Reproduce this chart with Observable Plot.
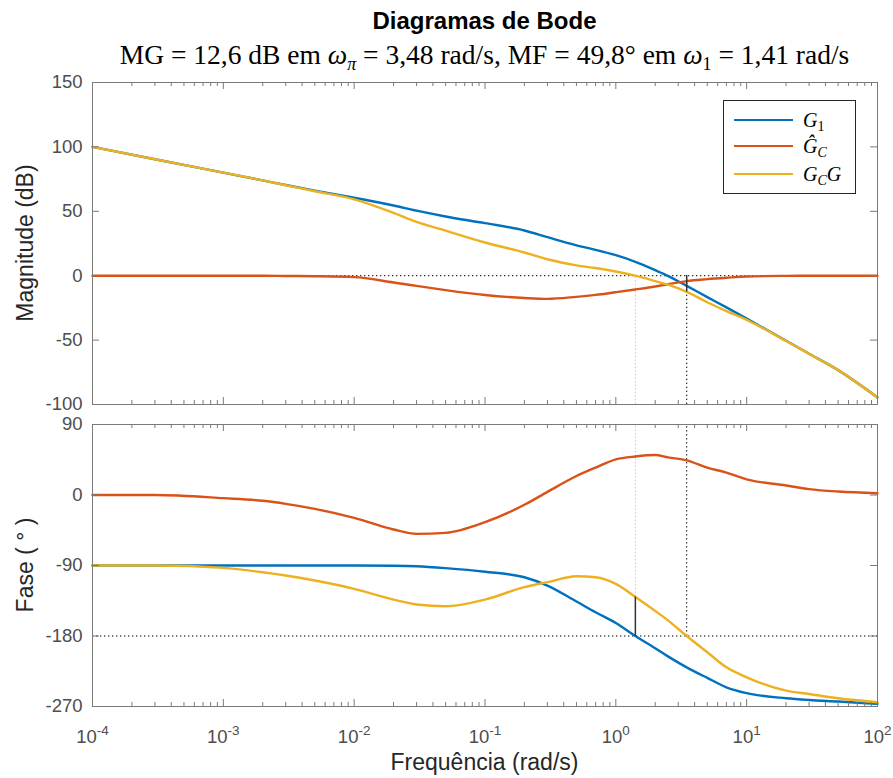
<!DOCTYPE html>
<html>
<head>
<meta charset="utf-8">
<script src="https://cdn.jsdelivr.net/npm/d3@7"></script>
<script src="https://cdn.jsdelivr.net/npm/@observablehq/plot@0.6"></script>
<style>
  body { margin: 0; background: #fff; }
  #wrap { position: relative; width: 893px; height: 778px; font-family: "Liberation Sans", Arial, sans-serif; color: #000; }
  #title { position: absolute; left: 92px; width: 785px; top: 7px; text-align: center; font-weight: bold; font-size: 24px; line-height: 28px; }
  #subtitle { position: absolute; left: 62px; width: 845px; top: 39px; text-align: center; font-family: "Liberation Serif", "Times New Roman", serif; font-size: 27.5px; line-height: 32px; white-space: nowrap; }
  #subtitle sub { font-size: 18px; vertical-align: -6px; line-height: 0; }
  .panel { position: absolute; left: 0; }
  .ylab { position: absolute; left: 25px; transform: translate(-50%, -50%) rotate(-90deg); white-space: nowrap; font-size: 23px; color: #262626; }
  #xlab { position: absolute; left: 92px; width: 785px; top: 749px; text-align: center; font-size: 23px; color: #262626; }
  #legend { position: absolute; left: 723px; top: 100px; width: 131px; height: 92px; border: 1px solid #262626; background: #fff; font-family: "Liberation Serif", "Times New Roman", serif; font-size: 20px; }
  .lg { position: absolute; left: 0; height: 26px; width: 131px; }
  .lg .sw { position: absolute; left: 10px; width: 59px; top: 12px; height: 0; border-top: 2.5px solid; }
  .lg .tx { position: absolute; left: 79px; top: 0; line-height: 26px; white-space: nowrap; }
  .lg sub { font-size: 14px; vertical-align: -4px; line-height: 0; }
</style>
</head>
<body>
<div id="wrap">
  <div id="title">Diagramas de Bode</div>
  <div id="subtitle">MG = 12,6 dB em <i>ω</i><sub><i>π</i></sub> = 3,48 rad/s, MF = 49,8° em <i>ω</i><sub>1</sub> = 1,41 rad/s</div>
  <div id="p1" class="panel" style="top:72px"></div>
  <div id="p2" class="panel" style="top:414px"></div>
  <div id="legend">
    <div class="lg" style="top:6px"><div class="sw" style="border-color:#0072BD"></div><div class="tx"><i>G</i><sub>1</sub></div></div>
    <div class="lg" style="top:32px"><div class="sw" style="border-color:#D95319"></div><div class="tx"><i>Ĝ</i><sub><i>C</i></sub></div></div>
    <div class="lg" style="top:60px"><div class="sw" style="border-color:#EDB120"></div><div class="tx"><i>G</i><sub><i>C</i></sub><i>G</i></div></div>
  </div>
  <div class="ylab" style="top:243px">Magnitude (dB)</div>
  <div class="ylab" style="top:565px">Fase ( ° )</div>
  <div id="xlab">Frequência (rad/s)</div>
</div>
<script>
// ---- data ----
const freq   = [0.0001, 0.0003, 0.001, 0.002, 0.003, 0.005, 0.01, 0.02, 0.03, 0.05, 0.1, 0.2, 0.3, 0.5, 0.7, 1, 1.41, 2, 2.5, 3.48, 5, 7, 10, 20, 30, 50, 100];
const magG1  = [100, 90.4, 80, 74, 70.4, 66, 60.5, 54.5, 50.5, 46, 40.8, 35.1, 29.9, 23.6, 20.1, 15.9, 10.8, 4.3, -0.1, -7.9, -16.6, -24.6, -33.3, -50.5, -60.6, -73.3, -94.5];
const magGc  = [0, 0, 0, 0, -0.2, -0.4, -1.1, -5.3, -7.9, -11.2, -15, -17.3, -18, -16.4, -14.9, -12.8, -10.7, -8.4, -6.6, -4.2, -2.7, -1.6, -0.6, -0.1, 0, 0, 0];
const magGcG = [100, 90.4, 80, 74, 70.2, 65.6, 59.3, 48.8, 41.8, 35, 25.8, 18, 12.8, 8, 6, 3.3, 0, -4.2, -7, -12.6, -20.6, -27.5, -34.3, -50.7, -60.7, -73.3, -94.5];
const phG1   = [-90, -90, -90, -90, -90, -90, -90, -90.3, -91, -93.4, -98, -105, -115.6, -136, -149.7, -163.5, -180, -195.6, -206, -220, -233.5, -245.5, -253, -259.5, -261.7, -263.7, -266.7];
const phGc   = [0, 0, -4, -7.4, -11.3, -17.7, -29.2, -44, -49.6, -48.3, -34.7, -12.5, 4, 24.2, 35, 45.5, 49.2, 51, 48, 44.3, 35, 28.5, 20, 12.1, 7.5, 4.4, 2.3];
const phGcG  = [-90, -90, -93, -98.6, -102.8, -109.2, -119.8, -133.5, -139.8, -142, -133.5, -117.7, -111.3, -103.7, -105, -113.5, -130.2, -148, -160, -180, -200.7, -220, -232.7, -249.7, -254, -259.5, -264.6];
const seriesColors = ["#0072BD", "#D95319", "#EDB120"];
const magTicks   = [150, 100, 50, 0, -50, -100];
const phaseTicks = [90, 0, -90, -180, -270];
const decadeExps = [-4, -3, -2, -1, 0, 1, 2];
const wPi = 3.48, w1 = 1.41, MG = 12.6, MF = 49.8;

// ---- helpers ----
const rows = vals => freq.map((f, i) => ({f, v: vals[i]}));
const majors = decadeExps.map(e => Math.pow(10, e));
const minors = [];
for (const e of decadeExps.slice(0, -1)) for (let m = 2; m <= 9; m++) minors.push(m * Math.pow(10, e));

const axisColor = "#7a7a7a";
const textColor = "#4d4d4d";
const IW = 785;

function build({height, mt, mb, ydomain, yticks, series, under, over, xlabels}) {
  const ih = height - mt - mb;
  const marks = [
    ...under,
    ...series.map((vals, i) => Plot.line(rows(vals), {x: "f", y: "v", stroke: seriesColors[i], strokeWidth: 2.4, curve: "monotone-x"})),
    ...over,
    Plot.tickX(minors, {x: d => d, insetTop: ih - 4, stroke: axisColor}),
    Plot.tickX(minors, {x: d => d, insetBottom: ih - 4, stroke: axisColor}),
    Plot.tickX(majors, {x: d => d, insetTop: ih - 7, stroke: axisColor}),
    Plot.tickX(majors, {x: d => d, insetBottom: ih - 7, stroke: axisColor}),
    Plot.tickY(yticks, {y: d => d, insetRight: IW - 7, stroke: axisColor}),
    Plot.tickY(yticks, {y: d => d, insetLeft: IW - 7, stroke: axisColor}),
    Plot.frame({stroke: axisColor}),
    Plot.axisY(yticks, {anchor: "left", tickSize: 0, tickPadding: 10, label: null, tickFormat: d => String(d), fill: textColor})
  ];
  if (xlabels) {
    marks.push(Plot.text(decadeExps, {x: d => Math.pow(10, d), frameAnchor: "bottom", dy: 36, lineAnchor: "bottom", text: d => "10|" + d, fill: textColor}));
  }
  return Plot.plot({
    width: 893, height, marginLeft: 92, marginRight: 16, marginTop: mt, marginBottom: mb,
    style: {fontFamily: '"Liberation Sans", Arial, sans-serif', fontSize: "18.5px", background: "transparent", overflow: "visible"},
    x: {type: "log", domain: [1e-4, 100], axis: null},
    y: {domain: ydomain, label: null},
    marks
  });
}

const dotted = {stroke: "#000", strokeWidth: 1, strokeDasharray: "1.4,2.6"};
const grayDotted = {stroke: "#c4c4c4", strokeWidth: 1, strokeDasharray: "1.4,2.2"};
const solid = {stroke: "#333", strokeWidth: 1.5};

const magPlot = build({
  height: 340, mt: 10, mb: 8, ydomain: [-100, 150], yticks: magTicks,
  series: [magG1, magGc, magGcG],
  under: [
    Plot.ruleY([0], dotted),
    Plot.ruleX([w1], {y1: -100, y2: 0, ...grayDotted}),
    Plot.ruleX([wPi], {y1: -100, y2: 0, ...dotted})
  ],
  over: [
    Plot.ruleX([wPi], {y1: -MG, y2: 0, ...solid})
  ],
  xlabels: false
});

const phasePlot = build({
  height: 364, mt: 10, mb: 72, ydomain: [-270, 90], yticks: phaseTicks,
  series: [phG1, phGc, phGcG],
  under: [
    Plot.ruleY([-180], dotted),
    Plot.ruleX([w1], {y1: -180 + MF, y2: 90, ...grayDotted}),
    Plot.ruleX([wPi], {y1: -180, y2: 90, ...dotted})
  ],
  over: [
    Plot.ruleX([w1], {y1: -180, y2: -180 + MF, ...solid})
  ],
  xlabels: true
});

document.getElementById("p1").appendChild(magPlot);
document.getElementById("p2").appendChild(phasePlot);

// superscript exponents on the decade labels
phasePlot.querySelectorAll("text").forEach(t => {
  if (!t.textContent.includes("|")) return;
  const [base, exp] = t.textContent.split("|");
  t.textContent = base;
  const ts = document.createElementNS("http://www.w3.org/2000/svg", "tspan");
  ts.setAttribute("dy", "-8");
  ts.setAttribute("font-size", "13.5");
  ts.textContent = exp;
  t.appendChild(ts);
});
</script>
</body>
</html>
